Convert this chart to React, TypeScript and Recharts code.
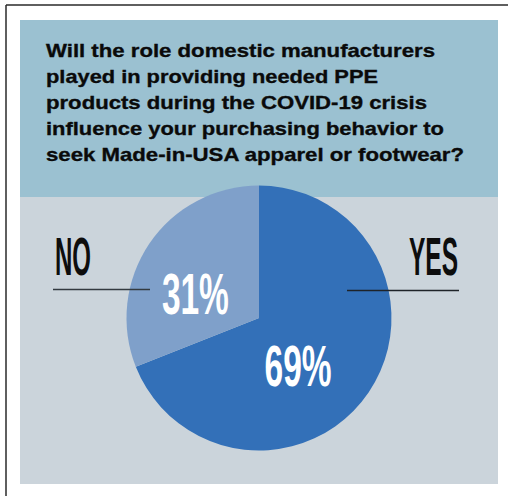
import { PieChart, Pie, Cell } from "recharts";

const answers = ["YES", "NO"];
const shares = [69, 31];
const sliceColors = ["#3370b8", "#7fa0ca"];
const titleLines = [
    "Will the role domestic manufacturers",
    "played in providing needed PPE",
    "products during the COVID-19 crisis",
    "influence your purchasing behavior to",
    "seek Made-in-USA apparel or footwear?",
];
// measured widths of the title lines in the reference (the font there is wider than Arial)
const titleWidths = [389, 332, 381, 398, 418];

const data = answers.map((name, i) => ({ name, value: shares[i] }));

// where the big % numbers sit inside each slice (angle in degrees, radius as share of outer radius)
const labelAngle = [-50.2, 158.8];
const labelRadius = [0.46, 0.515];

const RAD = Math.PI / 180;
const FONT = "'Liberation Sans', Arial, sans-serif";

// narrow poster-style type: squeeze a bold font horizontally
const Condensed = ({ x, y, w, size, anchor = "start", fill, children }: any) => {
    const s = 0.5;
    return (
        <g transform={`translate(${x},${y}) scale(${s},1)`}>
            <text
                x={0}
                y={0}
                textAnchor={anchor}
                fontFamily={FONT}
                fontWeight="bold"
                fontSize={size}
                fill={fill}
                textLength={w / s}
                lengthAdjust="spacingAndGlyphs"
            >
                {children}
            </text>
        </g>
    );
};

const renderLabel = (props: any) => {
    const { cx, cy, outerRadius, index, value } = props;
    const r = outerRadius * labelRadius[index];
    const x = cx + r * Math.cos(-labelAngle[index] * RAD);
    const y = cy + r * Math.sin(-labelAngle[index] * RAD);
    return (
        <Condensed key={`lbl-${index}`} x={x} y={y + 21} w={67} size={58} anchor="middle" fill="#ffffff">
            {value}%
        </Condensed>
    );
};

export default function App() {
    return (
        <div style={{ position: "absolute", left: 0, top: 0, width: 508, height: 496, background: "#fff", overflow: "hidden" }}>
            <div style={{ position: "absolute", left: 20, top: 20, width: 478, height: 177, background: "#9bc1d1" }} />
            <div style={{ position: "absolute", left: 20, top: 197, width: 478, height: 287, background: "#cbd4db" }} />
            <div style={{ position: "absolute", left: 0, top: 0 }}>
                <PieChart width={508} height={496} margin={{ top: 0, right: 0, bottom: 0, left: 0 }}>
                    <Pie
                        data={data}
                        dataKey="value"
                        nameKey="name"
                        cx={259}
                        cy={318}
                        outerRadius={132.5}
                        startAngle={90}
                        endAngle={-270}
                        stroke="none"
                        label={renderLabel}
                        labelLine={false}
                        isAnimationActive={false}
                    >
                        {data.map((d, i) => (
                            <Cell key={d.name} fill={sliceColors[i]} />
                        ))}
                    </Pie>
                </PieChart>
            </div>
            <svg width={508} height={496} style={{ position: "absolute", left: 0, top: 0, pointerEvents: "none" }}>
                <line x1={6} y1={5} x2={508} y2={5} stroke="#2a2a2a" strokeWidth={1.5} />
                <line x1={6} y1={5} x2={6} y2={496} stroke="#2a2a2a" strokeWidth={1.5} />
                {titleLines.map((t, i) => (
                    <text
                        key={i}
                        x={46}
                        y={57 + i * 26}
                        fontFamily={FONT}
                        fontWeight="bold"
                        fontSize={19}
                        fill="#0a0a0a"
                        stroke="#0a0a0a"
                        strokeWidth={0.35}
                        textLength={titleWidths[i]}
                        lengthAdjust="spacingAndGlyphs"
                    >
                        {t}
                    </text>
                ))}
                <Condensed x={55} y={275} w={36} size={53} fill="#0d0d0d">{answers[1]}</Condensed>
                <line x1={53} y1={289.5} x2={150} y2={289.5} stroke="#333a40" strokeWidth={1.5} />
                <Condensed x={409} y={275} w={49} size={53} fill="#0d0d0d">{answers[0]}</Condensed>
                <line x1={347} y1={290.5} x2={459} y2={290.5} stroke="#1e2328" strokeWidth={1.5} />
            </svg>
        </div>
    );
}
